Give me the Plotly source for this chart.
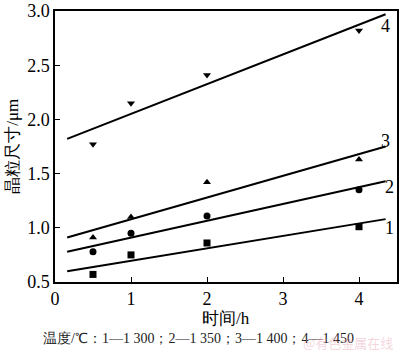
import plotly.graph_objects as go

time_h = [0.5, 1, 2, 4]
size_1 = [0.57, 0.75, 0.86, 1.01]
size_2 = [0.78, 0.95, 1.11, 1.35]
size_3 = [0.91, 1.10, 1.42, 1.63]
size_4 = [1.77, 2.15, 2.41, 2.82]

fit_x = [0.16, 4.35]
fit_1 = [0.60, 1.08]
fit_2 = [0.78, 1.43]
fit_3 = [0.91, 1.75]
fit_4 = [1.82, 2.97]

labels = ["1", "2", "3", "4"]
label_x = [4.4, 4.4, 4.35, 4.35]
label_y = [1.0, 1.38, 1.8, 2.86]

FONT = "Liberation Serif"

fig = go.Figure()
series = [(size_1, fit_1, "square"), (size_2, fit_2, "circle"),
          (size_3, fit_3, "triangle-up"), (size_4, fit_4, "triangle-down")]
for ys, fy, sym in series:
    fig.add_trace(go.Scatter(x=fit_x, y=fy, mode="lines",
                             line=dict(color="black", width=2), showlegend=False))
    fig.add_trace(go.Scatter(x=time_h, y=ys, mode="markers",
                             marker=dict(symbol=sym, size=7, color="black"),
                             showlegend=False))

for t, lx, ly in zip(labels, label_x, label_y):
    fig.add_annotation(x=lx, y=ly, text=t, showarrow=False,
                       font=dict(family=FONT, size=18, color="black"),
                       xanchor="center", yanchor="middle")

fig.add_annotation(xref="paper", yref="paper", x=0.5, y=-0.135, text="时间/h",
                   showarrow=False, font=dict(family=FONT, size=17, color="black"),
                   xanchor="center", yanchor="middle")
fig.add_annotation(xref="paper", yref="paper", x=-0.125, y=0.5, text="晶粒尺寸/μm",
                   textangle=-90, showarrow=False,
                   font=dict(family=FONT, size=17, color="black"),
                   xanchor="center", yanchor="middle")
fig.add_annotation(xref="paper", yref="paper", x=0.42, y=-0.207,
                   text="温度/℃：1—1 300；2—1 350；3—1 400；4—1 450",
                   showarrow=False, font=dict(family=FONT, size=14, color="#222222"),
                   xanchor="center", yanchor="middle")
fig.add_annotation(xref="paper", yref="paper", x=0.995, y=-0.222,
                   text="@有色金属在线", showarrow=False,
                   font=dict(family="Noto Sans CJK SC", size=13, color="rgba(230,160,175,0.45)"),
                   xanchor="right", yanchor="middle")

axis_common = dict(showgrid=False, zeroline=False, showline=True, linecolor="black",
                   linewidth=1.5, mirror=True, ticks="inside", ticklen=5,
                   tickcolor="black", ticklabeloverflow="allow",
                   tickfont=dict(family=FONT, size=18, color="black"))
fig.update_xaxes(range=[0, 4.5], tickvals=[0, 1, 2, 3, 4], ticktext=["0", "1", "2", "3", "4"],
                 **axis_common)
fig.update_yaxes(range=[0.5, 3.0], tickvals=[0.5, 1.0, 1.5, 2.0, 2.5, 3.0],
                 ticktext=["0.5", "1.0", "1.5", "2.0", "2.5", "3.0"], **axis_common)

fig.update_layout(width=400, height=354, margin=dict(l=55, r=1, t=7, b=72),
                  plot_bgcolor="white", paper_bgcolor="white")
fig.write_html("out.html")
